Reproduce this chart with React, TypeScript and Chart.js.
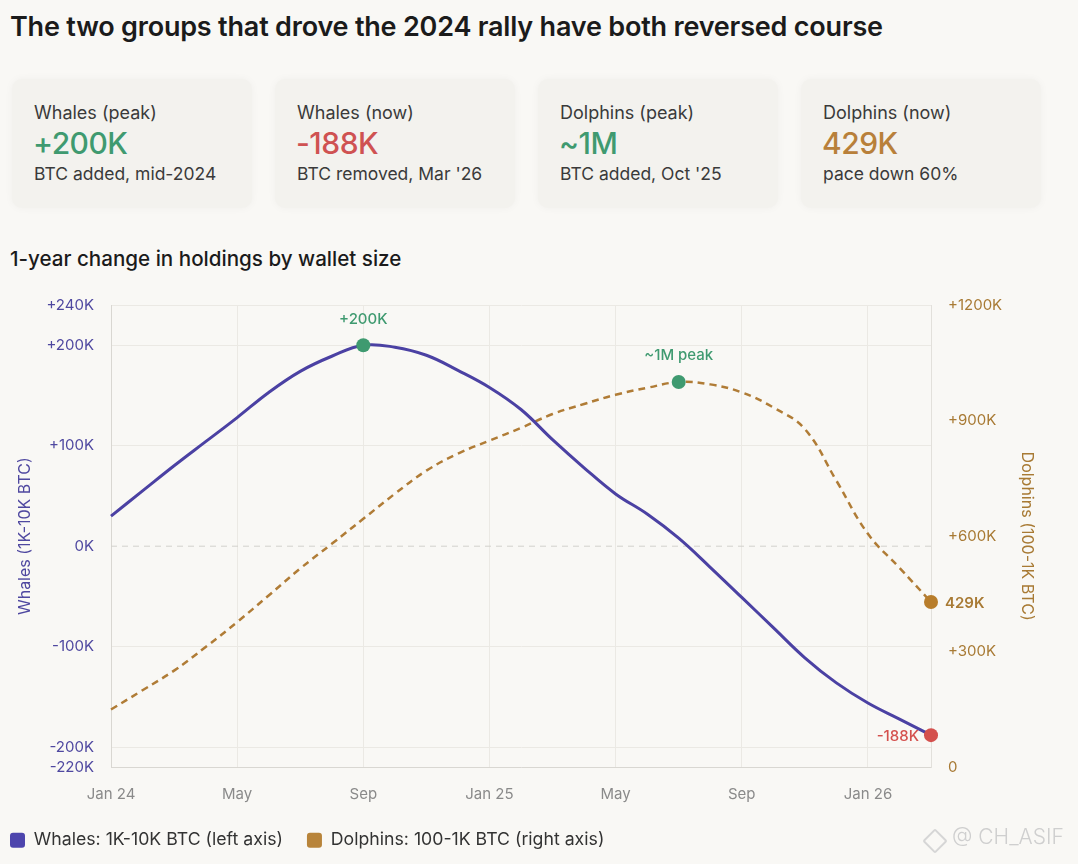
import React, { useEffect, useRef } from "react";
import { Chart, registerables } from "chart.js";

Chart.register(...registerables);

// ---------- data ----------
const MONTH_LABELS = [
  "Jan 24", "Feb", "Mar", "Apr", "May", "Jun", "Jul", "Aug", "Sep", "Oct", "Nov", "Dec",
  "Jan 25", "Feb", "Mar", "Apr", "May", "Jun", "Jul", "Aug", "Sep", "Oct", "Nov", "Dec",
  "Jan 26", "Feb", "Mar",
];
// 1-year change, thousands of BTC
const WHALES_K = [
  30, 55, 80, 104, 128, 153, 174, 189, 200, 198, 190, 175, 158,
  136, 106, 78, 52, 32, 8, -21, -51, -81, -111, -136, -156, -172, -188,
];
const DOLPHINS_K = [
  150, 200, 251, 312, 377, 446, 516, 580, 645, 710, 770, 814, 848,
  881, 917, 943, 967, 985, 1000, 994, 973, 934, 878, 744, 606, 518, 429,
];
const LEFT_TICKS = [-220, -200, -100, 0, 100, 200, 240];
const RIGHT_TICKS = [0, 300, 600, 900, 1200];
const X_LABEL_STEP = 4;
const WHALE_PEAK_INDEX = 8;
const DOLPHIN_PEAK_INDEX = 18;
const LAST_INDEX = 26;
const WHALE_PEAK_TEXT = "+200K";
const DOLPHIN_PEAK_TEXT = "~1M peak";
const WHALE_NOW_TEXT = "-188K";
const DOLPHIN_NOW_TEXT = "429K";

const CARD_LABELS = ["Whales (peak)", "Whales (now)", "Dolphins (peak)", "Dolphins (now)"];
const CARD_VALUES = ["+200K", "-188K", "~1M", "429K"];
const CARD_NOTES = ["BTC added, mid-2024", "BTC removed, Mar '26", "BTC added, Oct '25", "pace down 60%"];

// ---------- style ----------
const FONT = "Inter, 'Noto Sans', sans-serif";
const BG = "#f9f8f5";
const CARD_BG = "#f3f2ee";
const PURPLE = "#4b41a3";
const PURPLE_TEXT = "#4f48a0";
const BROWN = "#b07c36";
const BROWN_TEXT = "#a87a34";
const GREEN = "#3f9a70";
const RED = "#d4504d";
const GRID = "#ebe9e4";
const AXIS_LINE = "#d9d7d2";
const CARD_COLORS = [GREEN, "#cf5252", GREEN, "#b8803a"];

const annotationPlugin = {
  id: "annotations",
  beforeDatasetsDraw(chart: any) {
    const { ctx, chartArea, scales } = chart;
    const y0 = scales.y.getPixelForValue(0);
    ctx.save();
    ctx.strokeStyle = "#d3d1cc";
    ctx.lineWidth = 1;
    ctx.setLineDash([6, 5]);
    ctx.beginPath();
    ctx.moveTo(chartArea.left, y0);
    ctx.lineTo(chartArea.right, y0);
    ctx.stroke();
    ctx.restore();
  },
  afterDatasetsDraw(chart: any) {
    const { ctx } = chart;
    const w = chart.getDatasetMeta(0).data;
    const d = chart.getDatasetMeta(1).data;
    ctx.save();
    ctx.textBaseline = "middle";
    ctx.font = `500 15px ${FONT}`;
    ctx.fillStyle = GREEN;
    ctx.textAlign = "center";
    ctx.fillText(WHALE_PEAK_TEXT, w[WHALE_PEAK_INDEX].x, w[WHALE_PEAK_INDEX].y - 26);
    ctx.fillText(DOLPHIN_PEAK_TEXT, d[DOLPHIN_PEAK_INDEX].x, d[DOLPHIN_PEAK_INDEX].y - 27);
    ctx.textAlign = "right";
    ctx.fillStyle = RED;
    ctx.fillText(WHALE_NOW_TEXT, w[LAST_INDEX].x - 12, w[LAST_INDEX].y + 1);
    ctx.textAlign = "left";
    ctx.fillStyle = BROWN_TEXT;
    ctx.font = `600 15px ${FONT}`;
    ctx.fillText(DOLPHIN_NOW_TEXT, d[LAST_INDEX].x + 14, d[LAST_INDEX].y + 1);
    ctx.restore();
  },
};

function fmtLeft(v: number) {
  if (v === 0) return "0K";
  return (v > 0 ? "+" : "") + v + "K";
}
function fmtRight(v: number) {
  if (v === 0) return "0";
  return "+" + v + "K";
}

function LineChart() {
  const ref = useRef<HTMLCanvasElement | null>(null);
  useEffect(() => {
    if (!ref.current) return;
    const tickFont = { family: FONT, size: 15 };
    const chart = new Chart(ref.current, {
      type: "line",
      data: {
        labels: MONTH_LABELS,
        datasets: [
          {
            label: "Whales: 1K-10K BTC (left axis)",
            data: WHALES_K,
            yAxisID: "y",
            borderColor: PURPLE,
            backgroundColor: "#4d45ad",
            borderWidth: 3,
            tension: 0.4,
            pointRadius: (c: any) => (c.dataIndex === WHALE_PEAK_INDEX || c.dataIndex === LAST_INDEX ? 7 : 0),
            pointHoverRadius: (c: any) => (c.dataIndex === WHALE_PEAK_INDEX || c.dataIndex === LAST_INDEX ? 7 : 0),
            pointBackgroundColor: (c: any) => (c.dataIndex === WHALE_PEAK_INDEX ? GREEN : RED),
            pointBorderWidth: 0,
          },
          {
            label: "Dolphins: 100-1K BTC (right axis)",
            data: DOLPHINS_K,
            yAxisID: "y1",
            borderColor: BROWN,
            backgroundColor: "#b8843a",
            borderWidth: 2.5,
            borderDash: [7, 5],
            tension: 0.4,
            pointRadius: (c: any) => (c.dataIndex === DOLPHIN_PEAK_INDEX || c.dataIndex === LAST_INDEX ? 7 : 0),
            pointHoverRadius: (c: any) => (c.dataIndex === DOLPHIN_PEAK_INDEX || c.dataIndex === LAST_INDEX ? 7 : 0),
            pointBackgroundColor: (c: any) => (c.dataIndex === DOLPHIN_PEAK_INDEX ? GREEN : "#b87d2b"),
            pointBorderWidth: 0,
          },
        ],
      },
      options: {
        animation: false,
        responsive: false,
        layout: { padding: { left: -14, right: 0, top: 0, bottom: 5 } },
        plugins: {
          tooltip: { enabled: false },
          legend: {
            position: "bottom",
            align: "start",
            labels: {
              boxWidth: 15,
              boxHeight: 15,
              useBorderRadius: true,
              borderRadius: 3,
              padding: 24,
              color: "#333333",
              font: { family: FONT, size: 17.7 },
              generateLabels: (ch: any) =>
                Chart.defaults.plugins.legend.labels
                  .generateLabels(ch)
                  .map((l: any) => ({ ...l, lineWidth: 0, lineDash: [], strokeStyle: "rgba(0,0,0,0)" })),
            },
          },
        },
        scales: {
          x: {
            type: "category",
            grid: {
              color: (c: any) => (c.index % X_LABEL_STEP === 0 && c.index !== LAST_INDEX ? GRID : "rgba(0,0,0,0)"),
              drawTicks: false,
            },
            border: { color: AXIS_LINE },
            ticks: {
              autoSkip: false,
              maxRotation: 0,
              padding: 18,
              color: "#8a8a8a",
              font: tickFont,
              callback: (_v: any, i: number) => (i % X_LABEL_STEP === 0 ? MONTH_LABELS[i] : ""),
            },
            afterFit: (s: any) => {
              s.height = 40;
            },
          },
          y: {
            type: "linear",
            position: "left",
            min: -220,
            max: 240,
            afterBuildTicks: (s: any) => {
              s.ticks = LEFT_TICKS.map((v) => ({ value: v }));
            },
            grid: {
              color: (c: any) => (c.tick && c.tick.value === 0 ? "rgba(0,0,0,0)" : GRID),
              drawTicks: false,
            },
            border: { color: AXIS_LINE },
            ticks: {
              padding: 17,
              color: PURPLE_TEXT,
              font: tickFont,
              callback: (v: any) => fmtLeft(Number(v)),
            },
            title: {
              display: true,
              text: "Whales (1K-10K BTC)",
              color: PURPLE_TEXT,
              font: { family: FONT, size: 16 },
              padding: { top: 30, bottom: 0 },
            },
            afterFit: (s: any) => {
              s.width = 125;
            },
          },
          y1: {
            type: "linear",
            position: "right",
            min: 0,
            max: 1200,
            afterBuildTicks: (s: any) => {
              s.ticks = RIGHT_TICKS.map((v) => ({ value: v }));
            },
            grid: { drawOnChartArea: false, drawTicks: false },
            border: { color: "#e2e0db" },
            ticks: {
              padding: 17,
              color: BROWN_TEXT,
              font: tickFont,
              callback: (v: any) => fmtRight(Number(v)),
            },
            title: {
              display: true,
              text: "Dolphins (100-1K BTC)",
              color: BROWN_TEXT,
              font: { family: FONT, size: 16 },
              padding: { top: 42, bottom: 0 },
            },
            afterFit: (s: any) => {
              s.width = 147;
            },
          },
        },
      } as any,
      plugins: [annotationPlugin],
    });
    return () => chart.destroy();
  }, []);
  return (
    <canvas
      ref={ref}
      width={1078}
      height={585}
      style={{ position: "absolute", left: 0, top: 279, width: 1078, height: 585 }}
    />
  );
}

export default function App() {
  return (
    <div
      style={{
        position: "fixed",
        left: 0,
        top: 0,
        width: 1078,
        height: 864,
        background: BG,
        fontFamily: FONT,
        overflow: "hidden",
      }}
    >
      <div
        style={{
          position: "absolute",
          left: 10,
          top: 10,
          fontSize: 27,
          fontWeight: 600,
          color: "#1b1b1b",
          whiteSpace: "nowrap",
          letterSpacing: -0.2,
        }}
      >
        The two groups that drove the 2024 rally have both reversed course
      </div>
      {CARD_LABELS.map((lab, i) => (
        <div
          key={i}
          style={{
            position: "absolute",
            left: 12 + i * 263,
            top: 79,
            width: 240,
            height: 129,
            background: CARD_BG,
            borderRadius: 10,
            boxShadow: "0 0 8px rgba(0,0,0,0.04)",
          }}
        >
          <div style={{ position: "absolute", left: 22, top: 23, fontSize: 18, color: "#3a3a3a", whiteSpace: "nowrap" }}>
            {lab}
          </div>
          <div
            style={{
              position: "absolute",
              left: 21,
              top: 46,
              fontSize: 30,
              fontWeight: 500,
              color: CARD_COLORS[i],
              whiteSpace: "nowrap",
              letterSpacing: -0.5,
            }}
          >
            {CARD_VALUES[i]}
          </div>
          <div style={{ position: "absolute", left: 22, top: 84, fontSize: 17.5, color: "#3a3a3a", whiteSpace: "nowrap" }}>
            {CARD_NOTES[i]}
          </div>
        </div>
      ))}
      <div
        style={{
          position: "absolute",
          left: 10,
          top: 246,
          fontSize: 20.6,
          fontWeight: 500,
          color: "#1b1b1b",
          whiteSpace: "nowrap",
        }}
      >
        1-year change in holdings by wallet size
      </div>
      <LineChart />
      <div
        style={{
          position: "absolute",
          left: 926,
          top: 832,
          width: 14,
          height: 14,
          border: "2px solid #d6d6d6",
          transform: "rotate(45deg)",
          borderRadius: 2,
        }}
      />
      <div
        style={{
          position: "absolute",
          left: 952,
          top: 824,
          fontSize: 21,
          fontWeight: 300,
          color: "#cfcfcf",
          whiteSpace: "nowrap",
        }}
      >
        @ CH_ASIF
      </div>
    </div>
  );
}
